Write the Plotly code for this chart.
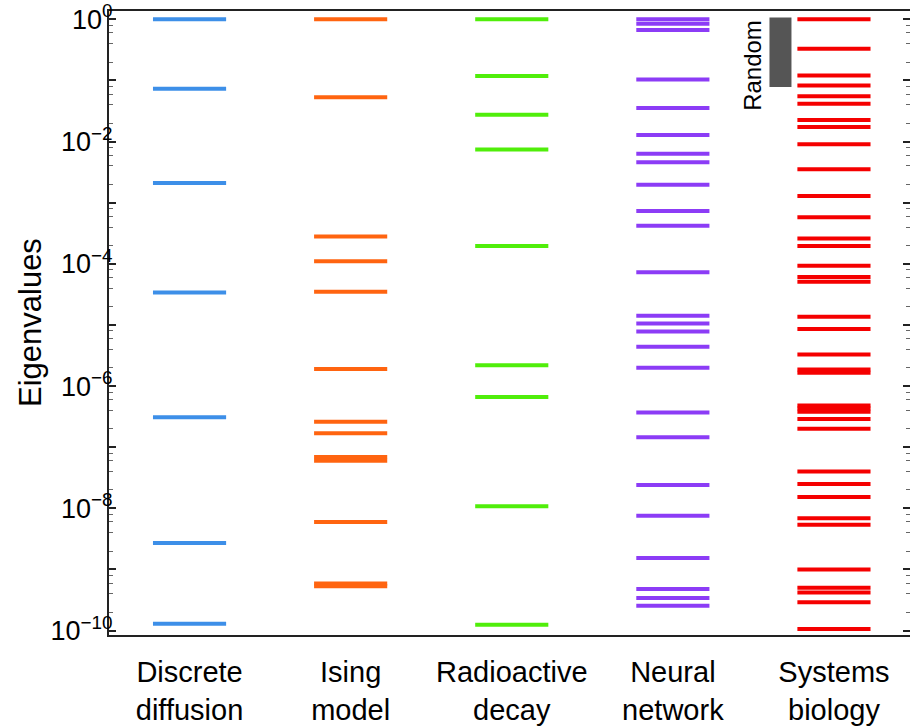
import plotly.graph_objects as go

categories = ["Discrete<br>diffusion", "Ising<br>model", "Radioactive<br>decay",
              "Neural<br>network", "Systems<br>biology"]
colors = ["#3d8fe8", "#ff6410", "#50ee0a", "#8c3cf6", "#f50000"]

discrete_diffusion = [1.0, 0.073, 0.0021, 3.4e-5, 3.1e-7, 2.7e-9, 1.3e-10]
ising_model = [1.0, 0.053, 2.8e-4, 1.1e-4, 3.5e-5, 1.9e-6, 2.6e-7, 1.7e-7,
               6.9e-8, 6.0e-8, 6.0e-9, 5.9e-10, 5.3e-10]
radioactive_decay = [1.0, 0.118, 0.0275, 0.0074, 1.95e-4, 2.2e-6, 6.6e-7,
                     1.08e-8, 1.25e-10]
neural_network = [1.0, 0.85, 0.67, 0.104, 0.0354, 0.0128, 0.00633, 0.00458,
                  0.00197, 7.3e-4, 4.2e-4, 7.3e-5, 1.42e-5, 1.06e-5, 7.8e-6,
                  4.4e-6, 2.0e-6, 3.7e-7, 1.45e-7, 2.4e-8, 7.6e-9, 1.54e-9,
                  4.8e-10, 3.4e-10, 2.55e-10]
systems_biology = [1.0, 0.33, 0.121, 0.083, 0.055, 0.0416, 0.0225, 0.0173,
                   0.0090, 0.00352, 0.00129, 5.8e-4, 2.6e-4, 1.95e-4, 9.3e-5,
                   6.1e-5, 5.1e-5, 1.36e-5, 8.6e-6, 3.3e-6, 1.86e-6, 1.65e-6,
                   4.8e-7, 4.3e-7, 3.8e-7, 2.9e-7, 2.0e-7, 4.0e-8, 2.5e-8,
                   1.53e-8, 6.9e-9, 5.4e-9, 1.0e-9, 5.0e-10, 4.2e-10, 2.9e-10,
                   1.06e-10]
series = [discrete_diffusion, ising_model, radioactive_decay, neural_network,
          systems_biology]

y_title = "Eigenvalues"
random_label = "Random"
random_low, random_high = 0.078, 1.07
random_x = 3.668

tick_exponents = list(range(0, -11, -1))
tick_labels = [f"10<sup>{'−' if e < 0 else ''}{abs(e)}</sup>" if e % 2 == 0 else ""
               for e in tick_exponents]

half_width = 0.227
fig = go.Figure()
for i, (vals, col) in enumerate(zip(series, colors)):
    xs, ys = [], []
    for v in vals:
        xs += [i - half_width, i + half_width, None]
        ys += [v, v, None]
    fig.add_trace(go.Scatter(x=xs, y=ys, mode="lines",
                             line=dict(color=col, width=4), hoverinfo="skip",
                             showlegend=False))

fig.add_trace(go.Scatter(x=[random_x, random_x], y=[random_low, random_high],
                         mode="lines", line=dict(color="#555555", width=22),
                         showlegend=False, hoverinfo="skip"))
fig.add_annotation(x=random_x - 0.17, y=-0.76, xref="x", yref="y",
                   text=random_label, textangle=-90, showarrow=False,
                   font=dict(size=24, color="black", family="Liberation Sans"))
fig.add_annotation(x=-0.0986, y=0.5, xref="paper", yref="paper",
                   text=y_title, textangle=-90, showarrow=False,
                   xanchor="center", yanchor="middle",
                   font=dict(size=31, color="black", family="Liberation Sans"))

minor_vals = [m * 10 ** e for e in range(-11, 1) for m in (2, 4, 6, 8)]

fig.update_layout(
    width=910, height=727,
    margin=dict(l=109, r=0, t=11, b=92),
    plot_bgcolor="white", paper_bgcolor="white",
    font=dict(family="Liberation Sans", color="black"),
    xaxis=dict(range=[-0.5, 4.472], tickvals=list(range(5)), ticktext=categories,
               showgrid=False, zeroline=False, showline=True, linecolor="#222",
               linewidth=2, mirror=True, ticks="", tickfont=dict(size=29),
               ticklabelstandoff=10, automargin=False),
    yaxis=dict(type="log", range=[-10.072, 0.136],
               tickvals=[10.0 ** e for e in tick_exponents], ticktext=tick_labels,
               ticks="inside", ticklen=7, tickwidth=1.5, tickcolor="#222",
               showgrid=False, zeroline=False, showline=True, linecolor="#222",
               linewidth=2, mirror="allticks", tickfont=dict(size=27),
               ticklabelstandoff=-11,
               minor=dict(tickvals=minor_vals, ticks="inside", ticklen=4,
                          tickwidth=1, tickcolor="#666"),
               automargin=False),
)

fig.write_html("out.html", config={"displayModeBar": False},
               post_script="document.body.style.margin='0';"
                           "document.body.style.overflow='hidden';")
